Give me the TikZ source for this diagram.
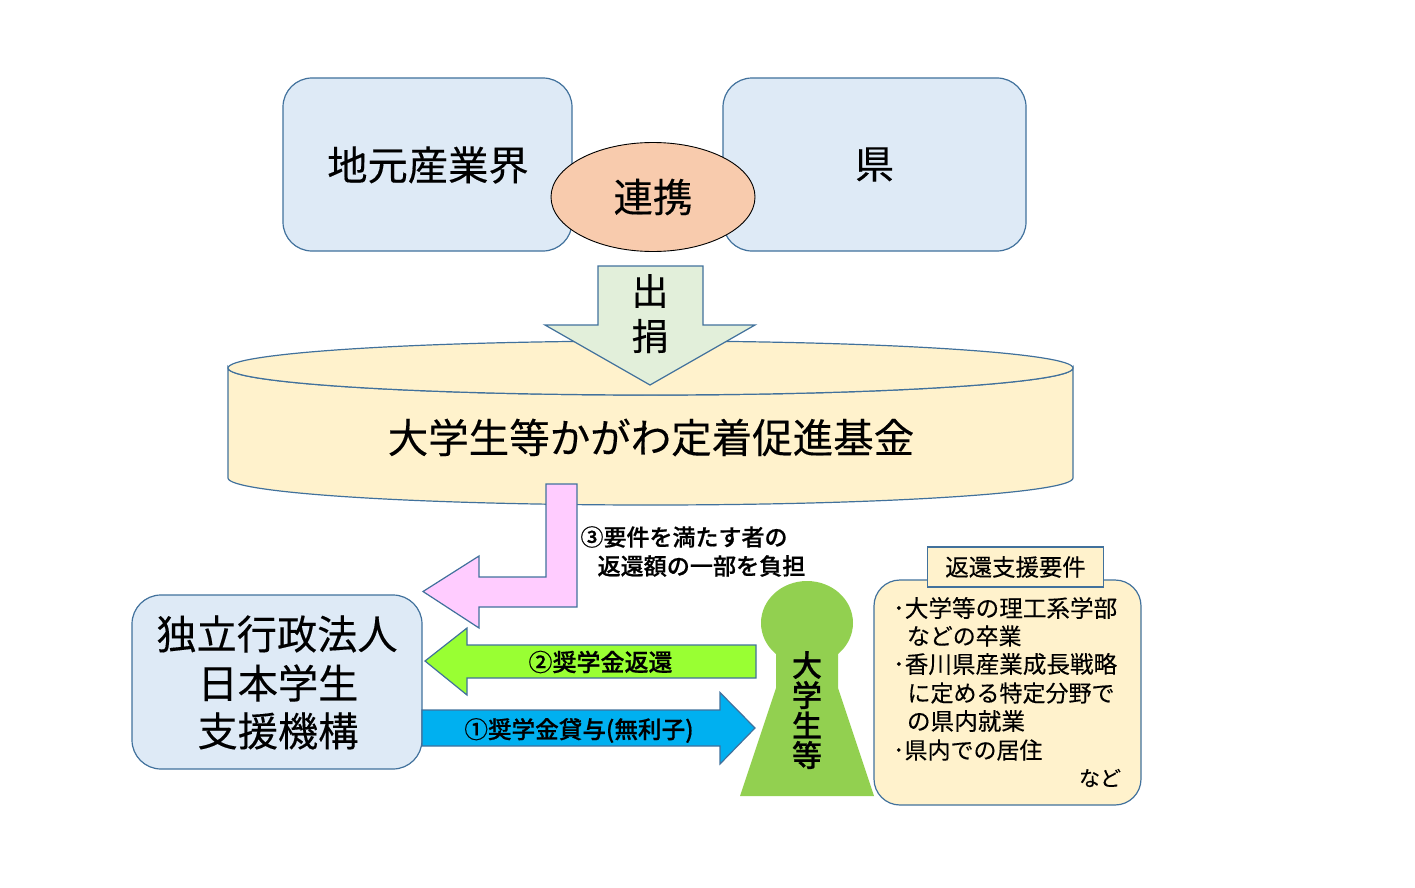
\documentclass[tikz,border=0pt]{standalone}
\usepackage{fontspec}
\newfontfamily\jp[FakeBold=0.25]{Noto Sans CJK JP}
\newfontfamily\jpm[FakeBold=0.6]{Noto Sans CJK JP Medium}
\usetikzlibrary{shapes.geometric}
\definecolor{edgeblue}{HTML}{41719C}
\definecolor{paleblue}{HTML}{DEEAF6}
\definecolor{cream}{HTML}{FFF2CC}
\definecolor{peach}{HTML}{F8CBAD}
\definecolor{palegreen}{HTML}{E2EFDA}
\definecolor{pinkarrow}{HTML}{FFCCFF}
\definecolor{limearrow}{HTML}{99FF33}
\definecolor{bluearrow}{HTML}{00B0F0}
\definecolor{figgreen}{HTML}{92D050}
\newcommand{\fs}[1]{\fontsize{#1}{#1}\selectfont}
\tikzset{
  roundbox/.style={draw=edgeblue,line width=1.2pt,fill=paleblue,rounded corners=29pt,inner sep=0pt,outer sep=0pt,align=center,font=\jp\fs{40}},
  blockarrow/.style={draw=edgeblue,line width=1.2pt,line join=miter},
  label/.style={inner sep=0pt,outer sep=0pt,font=\jpm\fs{24},align=left},
  plain/.style={inner sep=0pt,outer sep=0pt},
}
\begin{document}
\begin{tikzpicture}[x=1pt,y=-1pt]
\useasboundingbox (0,0) rectangle (1415,888);
% partners
\node[roundbox,minimum width=289pt,minimum height=173pt] (local) at (427.5,164.5) {};
\node[plain,font=\jp\fs{40.3}] (localtext) at (428,165) {地元産業界};
\node[roundbox,minimum width=303pt,minimum height=173pt] (pref) at (874.5,164.5) {};
\node[plain,font=\jp\fs{39}] (preftext) at (874.5,164.5) {県};
\node[ellipse,draw=black,line width=.9pt,fill=peach,minimum width=204pt,minimum height=109pt,inner sep=0pt,font=\jp\fs{39.5}] (link) at (653,197) {連携};
% fund cylinder
\draw[draw=edgeblue,line width=1.2pt,fill=cream] (228,368) -- (228,478) arc[start angle=180,end angle=360,x radius=422.5,y radius=-27] -- (1073,368) arc[start angle=0,end angle=-180,x radius=422.5,y radius=-27] -- cycle;
\draw[draw=edgeblue,line width=1.2pt,fill=cream] (650.5,368) ellipse[x radius=422.5,y radius=27];
\node[plain,font=\jp\fs{40.5}] (fund) at (651,437.5) {大学生等かがわ定着促進基金};
% donation arrow
\draw[blockarrow,fill=palegreen] (598,266) -- (703,266) -- (703,325) -- (755,325) -- (650,385) -- (545,325) -- (598,325) -- cycle;
\node[plain,font=\jp\fs{37}] (don1) at (650,291) {出};
\node[plain,font=\jp\fs{37}] (don2) at (650,336) {捐};
% pink arrow
\draw[blockarrow,fill=pinkarrow] (546,484) -- (577,484) -- (577,607) -- (479,607) -- (479,628) -- (423,591.5) -- (479,556) -- (479,577) -- (546,577) -- cycle;
\node[label,anchor=west,font=\jpm\fs{23}] (req1) at (580.5,537) {③要件を満たす者の};
\node[label,anchor=west,font=\jpm\fs{23.1}] (req2) at (597.5,566) {返還額の一部を負担};
% agency
\node[roundbox,minimum width=290pt,minimum height=174pt] (jasso) at (277,682) {};
\node[plain,font=\jp\fs{40.2}] (j1) at (277,634) {独立行政法人};
\node[plain,font=\jp\fs{40.2}] (j2) at (278,683) {日本学生};
\node[plain,font=\jp\fs{40.2}] (j3) at (278,731) {支援機構};
% green and blue arrows
\draw[blockarrow,fill=limearrow] (756,645) -- (756,678) -- (467,678) -- (467,695) -- (425,661) -- (467,628) -- (467,645) -- cycle;
\node[label] (repay) at (600.5,662) {②奨学金返還};
\draw[blockarrow,fill=bluearrow] (422,710) -- (720,710) -- (720,692.5) -- (755,728) -- (720,764) -- (720,746) -- (422,746) -- cycle;
\node[label,font=\jpm\fs{23.6}] (loan) at (579,730.5) {①奨学金貸与(無利子)};
% student figure
\fill[figgreen] (807,623) ellipse[x radius=46,y radius=42];
\fill[figgreen] (776,650) -- (838,650) -- (838,688) -- (874,796) -- (740,796) -- (776,688) -- cycle;
\node[plain,font=\jpm\fs{30}] (s1) at (807,665) {大};
\node[plain,font=\jpm\fs{30}] (s2) at (807,695) {学};
\node[plain,font=\jpm\fs{30}] (s3) at (807,725) {生};
\node[plain,font=\jpm\fs{30}] (s4) at (807,755) {等};
% requirements
\node[roundbox,fill=cream,rounded corners=26pt,minimum width=267pt,minimum height=225pt] (reqbox) at (1007.5,692.5) {};
\node[draw=edgeblue,line width=1.8pt,fill=cream,minimum width=176pt,minimum height=40pt,inner sep=0pt,font=\jp\fs{23.4}] (reqtitle) at (1015.5,567) {返還支援要件};
\node[anchor=west,plain,font=\jp\fs{23.6}] (l1) at (893,608) {･大学等の理工系学部};
\node[anchor=west,plain,font=\jp\fs{22.9}] (l2) at (907,636) {などの卒業};
\node[anchor=west,plain,font=\jp\fs{23.6}] (l3) at (893,664) {･香川県産業成長戦略};
\node[anchor=west,plain,font=\jp\fs{23}] (l4) at (907.5,693) {に定める特定分野で};
\node[anchor=west,plain,font=\jp\fs{23.6}] (l5) at (907,721) {の県内就業};
\node[anchor=west,plain,font=\jp\fs{23}] (l6) at (893,750) {･県内での居住};
\node[anchor=east,plain,font=\jp\fs{21}] (l7) at (1121,778) {など};
\end{tikzpicture}
\end{document}
